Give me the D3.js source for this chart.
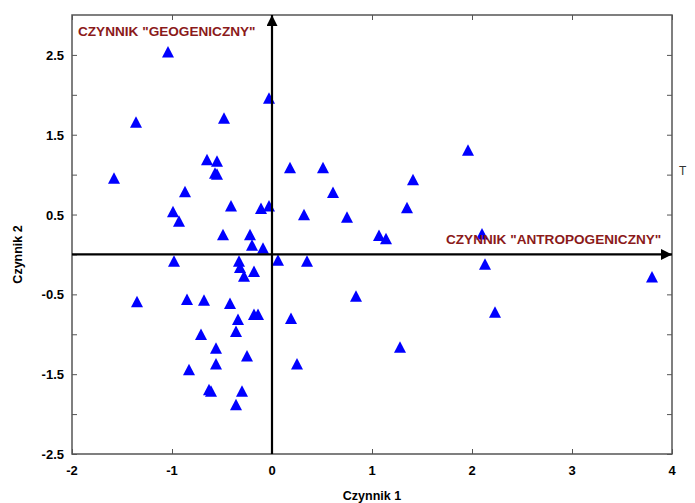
<!DOCTYPE html>
<html>
<head>
<meta charset="utf-8">
<script src="https://cdn.jsdelivr.net/npm/d3@7"></script>
<style>
  body { margin: 0; background: #fff; }
  text { font-family: Arial, "Liberation Sans", sans-serif; }
</style>
</head>
<body>
<div id="container"></div>
<script>
// factor scores
const factor1 = [-1.04, -1.36, -0.48, -0.03, -1.58, -0.65, -0.55, -0.57, -0.55, -0.87,
  -0.99, -0.93, -0.41, -0.11, -0.03, -0.49, -0.22, -0.20, -0.09, 0.18,
  0.51, 0.61, 0.32, 0.75, 1.96, 1.41, 1.35, 1.07, 1.14, 2.10,
  2.13, 2.23, 3.80, 0.06, 0.35, -0.98, -0.33, -0.32, -0.28, -0.18,
  -1.35, -0.85, -0.68, -0.42, -0.34, -0.18, -0.14, 0.19, 0.84, -0.36,
  -0.71, -0.56, -0.25, -0.56, -0.83, -0.63, -0.61, -0.30, -0.36, 0.25, 1.28];
const factor2 = [2.53, 1.65, 1.70, 1.95, 0.95, 1.18, 1.16, 1.01, 1.00, 0.78,
  0.53, 0.41, 0.60, 0.57, 0.60, 0.24, 0.24, 0.11, 0.07, 1.08,
  1.08, 0.77, 0.49, 0.46, 1.30, 0.93, 0.58, 0.23, 0.19, 0.25,
  -0.13, -0.73, -0.29, -0.08, -0.09, -0.09, -0.09, -0.17, -0.28, -0.22,
  -0.60, -0.57, -0.58, -0.62, -0.82, -0.76, -0.76, -0.81, -0.53, -0.97,
  -1.01, -1.18, -1.28, -1.38, -1.45, -1.70, -1.72, -1.72, -1.89, -1.38, -1.17];

const xTicks = [-2, -1, 0, 1, 2, 3, 4];
const yTicks = [-2.5, -2, -1.5, -1, -0.5, 0, 0.5, 1, 1.5, 2, 2.5];
const yLabels = [-2.5, -1.5, -0.5, 0.5, 1.5, 2.5];

const width = 695, height = 503;
const margin = {left: 72, right: 23, top: 15, bottom: 49};

const svg = d3.select("#container").append("svg")
    .attr("width", width)
    .attr("height", height);

const x = d3.scaleLinear().domain([-2, 4]).range([margin.left, width - margin.right]);
const y = d3.scaleLinear().domain([-2.5, 3]).range([height - margin.bottom, margin.top]);

const frameColor = "#555";

// ticks (inward) on all four sides
const tickLen = 5;
svg.append("g").call(d3.axisRight(y).tickValues(yTicks).tickSize(tickLen).tickFormat(""))
    .attr("transform", `translate(${x(-2)},0)`)
    .call(g => g.select(".domain").remove())
    .selectAll("line").attr("stroke", frameColor);
svg.append("g").call(d3.axisLeft(y).tickValues(yTicks).tickSize(tickLen).tickFormat(""))
    .attr("transform", `translate(${x(4)},0)`)
    .call(g => g.select(".domain").remove())
    .selectAll("line").attr("stroke", frameColor);
svg.append("g").call(d3.axisTop(x).tickValues(xTicks).tickSize(tickLen).tickFormat(""))
    .attr("transform", `translate(0,${y(-2.5)})`)
    .call(g => g.select(".domain").remove())
    .selectAll("line").attr("stroke", frameColor);
svg.append("g").call(d3.axisBottom(x).tickValues(xTicks).tickSize(tickLen).tickFormat(""))
    .attr("transform", `translate(0,${y(3)})`)
    .call(g => g.select(".domain").remove())
    .selectAll("line").attr("stroke", frameColor);

// frame
svg.append("rect")
    .attr("x", x(-2)).attr("y", y(3))
    .attr("width", x(4) - x(-2)).attr("height", y(-2.5) - y(3))
    .attr("fill", "none")
    .attr("stroke", frameColor)
    .attr("stroke-width", 1.5);

// tick labels
svg.append("g").selectAll("text")
    .data(xTicks)
    .enter().append("text")
    .attr("x", d => x(d))
    .attr("y", y(-2.5) + 21)
    .attr("text-anchor", "middle")
    .attr("font-size", 13)
    .attr("font-weight", "bold")
    .text(d => d);

svg.append("g").selectAll("text")
    .data(yLabels)
    .enter().append("text")
    .attr("x", x(-2) - 8)
    .attr("y", d => y(d) + 5)
    .attr("text-anchor", "end")
    .attr("font-size", 13)
    .attr("font-weight", "bold")
    .text(d => d);

// axis titles
svg.append("text")
    .attr("x", x(1))
    .attr("y", 500)
    .attr("text-anchor", "middle")
    .attr("font-size", 12.5)
    .attr("font-weight", "bold")
    .text("Czynnik 1");

svg.append("text")
    .attr("transform", `translate(22,${y(0)}) rotate(-90)`)
    .attr("text-anchor", "middle")
    .attr("font-size", 12.5)
    .attr("font-weight", "bold")
    .text("Czynnik 2");

// points
const tri = "M0,-6.5L6,5L-6,5Z";
svg.append("g").selectAll("path")
    .data(factor1.map((d, i) => [d, factor2[i]]))
    .enter().append("path")
    .attr("d", tri)
    .attr("fill", "#0000ff")
    .attr("transform", d => `translate(${x(d[0])},${y(d[1])})`);

// factor axes with arrows
svg.append("defs").append("marker")
    .attr("id", "arrow")
    .attr("viewBox", "0 0 10 10")
    .attr("refX", 10).attr("refY", 5)
    .attr("markerWidth", 16).attr("markerHeight", 11)
    .attr("markerUnits", "userSpaceOnUse")
    .attr("orient", "auto")
    .append("path")
    .attr("d", "M0,0L10,5L0,10Z")
    .attr("fill", "#000");

svg.append("line")
    .attr("x1", x(-2)).attr("x2", x(4))
    .attr("y1", y(0)).attr("y2", y(0))
    .attr("stroke", "#000").attr("stroke-width", 2.2)
    .attr("marker-end", "url(#arrow)");

svg.append("line")
    .attr("x1", x(0)).attr("x2", x(0))
    .attr("y1", y(-2.5)).attr("y2", y(3))
    .attr("stroke", "#000").attr("stroke-width", 2.2)
    .attr("marker-end", "url(#arrow)");

// factor names
svg.append("text")
    .attr("x", 78).attr("y", 36)
    .attr("font-size", 13.6)
    .attr("font-weight", "bold")
    .attr("fill", "#8b1a1a")
    .text('CZYNNIK "GEOGENICZNY"');

svg.append("text")
    .attr("x", 446).attr("y", 244)
    .attr("font-size", 13.6)
    .attr("font-weight", "bold")
    .attr("fill", "#8b1a1a")
    .text('CZYNNIK "ANTROPOGENICZNY"');

// clipped label at the right edge
svg.append("text")
    .attr("x", 679).attr("y", 175)
    .attr("font-size", 12)
    .attr("fill", "#333")
    .text("T");
</script>
</body>
</html>
